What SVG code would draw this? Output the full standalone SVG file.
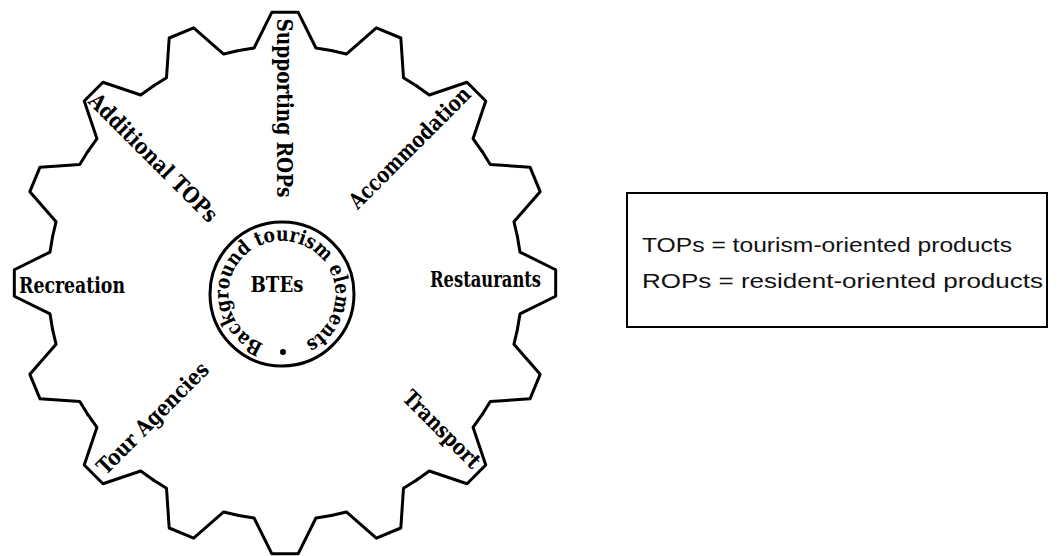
<svg xmlns="http://www.w3.org/2000/svg" xmlns:xlink="http://www.w3.org/1999/xlink" width="1059" height="556" viewBox="0 0 1059 556">
  <style>
    .gear { fill: none; stroke: #000; stroke-width: 3; stroke-linejoin: round; stroke-linecap: round; }
    .lbl { font-family: "DejaVu Serif", "Liberation Serif", serif; font-weight: bold; font-size: 22px; fill: #000; }
    .ring { font-family: "DejaVu Serif", "Liberation Serif", serif; font-weight: bold; font-size: 20px; fill: #000; }
    .leg { font-family: "Liberation Sans", Arial, sans-serif; font-size: 21px; fill: #111; }
  </style>
  <defs>
    <path id="tooth" d="M232.45,-46.24 L234.97,-30.93 L270.68,-13.24 L270.68,13.24 L234.97,30.93 L232.45,46.24"/>
    <path id="ringPath" d="M263.87,343.80 A53,53 0 1,1 300.13,244.20 A53,53 0 1,1 263.87,343.80"/>
  </defs>
  <rect width="1059" height="556" fill="#fff"/>

  <g id="gear" class="gear">
    <use xlink:href="#tooth" href="#tooth" transform="translate(285 283) rotate(0)"/>
    <use xlink:href="#tooth" href="#tooth" transform="translate(285 283) rotate(22.5)"/>
    <use xlink:href="#tooth" href="#tooth" transform="translate(285 283) rotate(45)"/>
    <use xlink:href="#tooth" href="#tooth" transform="translate(285 283) rotate(67.5)"/>
    <use xlink:href="#tooth" href="#tooth" transform="translate(285 283) rotate(90)"/>
    <use xlink:href="#tooth" href="#tooth" transform="translate(285 283) rotate(112.5)"/>
    <use xlink:href="#tooth" href="#tooth" transform="translate(285 283) rotate(135)"/>
    <use xlink:href="#tooth" href="#tooth" transform="translate(285 283) rotate(157.5)"/>
    <use xlink:href="#tooth" href="#tooth" transform="translate(285 283) rotate(180)"/>
    <use xlink:href="#tooth" href="#tooth" transform="translate(285 283) rotate(202.5)"/>
    <use xlink:href="#tooth" href="#tooth" transform="translate(285 283) rotate(225)"/>
    <use xlink:href="#tooth" href="#tooth" transform="translate(285 283) rotate(247.5)"/>
    <use xlink:href="#tooth" href="#tooth" transform="translate(285 283) rotate(270)"/>
    <use xlink:href="#tooth" href="#tooth" transform="translate(285 283) rotate(292.5)"/>
    <use xlink:href="#tooth" href="#tooth" transform="translate(285 283) rotate(315)"/>
    <use xlink:href="#tooth" href="#tooth" transform="translate(285 283) rotate(337.5)"/>
  </g>

  <g id="center">
    <circle cx="282" cy="294" r="72" fill="none" stroke="#000" stroke-width="3"/>
    <text class="ring"><textPath xlink:href="#ringPath" href="#ringPath" textLength="292" lengthAdjust="spacingAndGlyphs">Background tourism elements</textPath></text>
    <circle cx="283" cy="352" r="3" fill="#000"/>
    <text class="lbl" x="277" y="292" font-size="23" text-anchor="middle" textLength="53" lengthAdjust="spacingAndGlyphs">BTEs</text>
  </g>

  <g id="labels">
    <text id="supporting" class="lbl" transform="translate(277 108) rotate(90)" text-anchor="middle" textLength="179" lengthAdjust="spacingAndGlyphs">Supporting ROPs</text>
    <text id="additional" class="lbl" transform="translate(148 163) rotate(45)" text-anchor="middle" textLength="172" lengthAdjust="spacingAndGlyphs">Additional TOPs</text>
    <text id="accommodation" class="lbl" transform="translate(415 153) rotate(-45)" text-anchor="middle" textLength="162" lengthAdjust="spacingAndGlyphs">Accommodation</text>
    <text id="restaurants" class="lbl" x="430" y="287" textLength="111" lengthAdjust="spacingAndGlyphs">Restaurants</text>
    <text id="transport" class="lbl" transform="translate(436.5 434.5) rotate(45)" text-anchor="middle" textLength="100" lengthAdjust="spacingAndGlyphs">Transport</text>
    <text id="tour" class="lbl" transform="translate(158 423.5) rotate(-45)" text-anchor="middle" textLength="148" lengthAdjust="spacingAndGlyphs">Tour Agencies</text>
    <text id="recreation" class="lbl" x="19" y="293" textLength="106" lengthAdjust="spacingAndGlyphs">Recreation</text>
  </g>

  <g id="legend">
    <rect x="627" y="193" width="420" height="134" fill="none" stroke="#000" stroke-width="2"/>
    <text class="leg" x="642" y="252" textLength="370" lengthAdjust="spacingAndGlyphs">TOPs = tourism-oriented products</text>
    <text class="leg" x="642" y="288" textLength="401" lengthAdjust="spacingAndGlyphs">ROPs = resident-oriented products</text>
  </g>
</svg>
